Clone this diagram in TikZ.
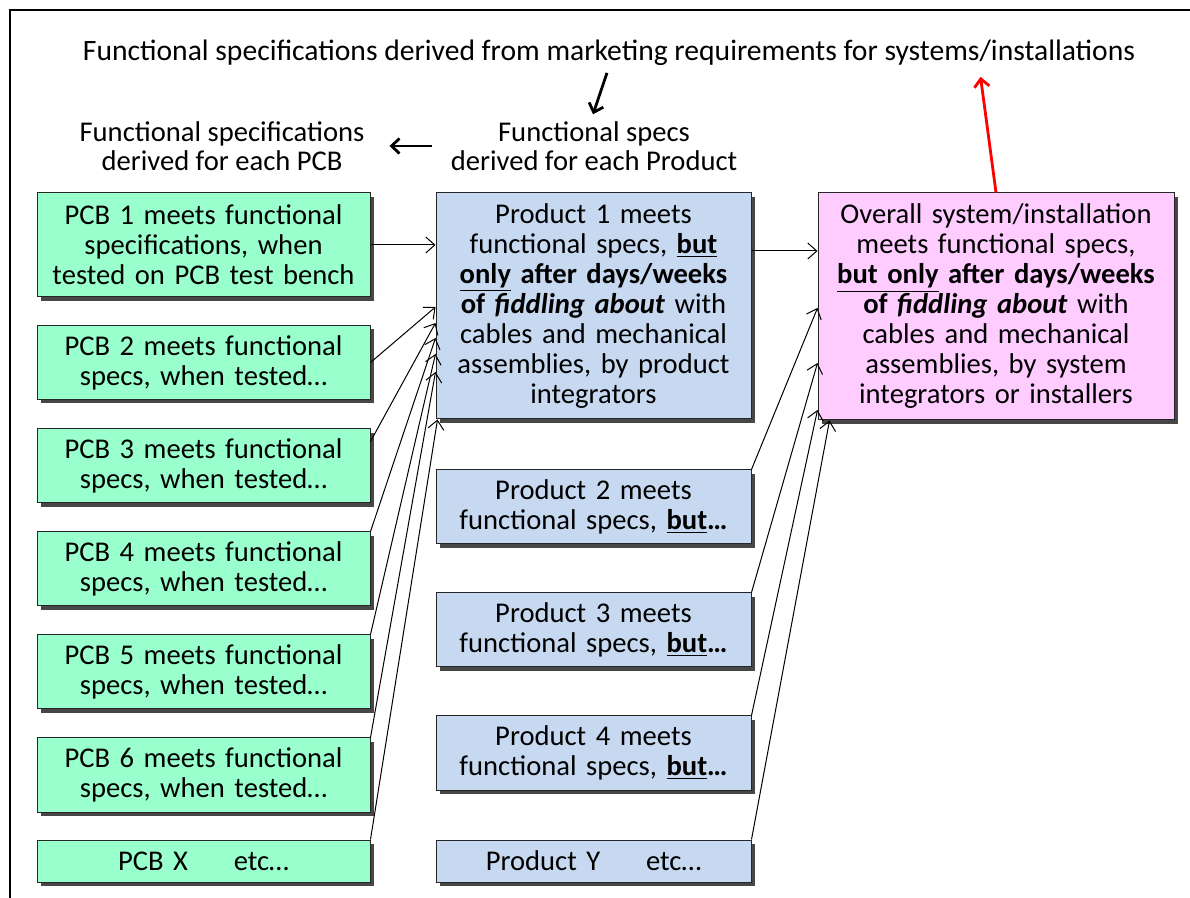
\documentclass[tikz,border=0pt]{standalone}
\usepackage{fontspec}
\setmainfont{Carlito}
\usetikzlibrary{shadows,calc,arrows.meta}
\definecolor{pcbgreen}{RGB}{153,255,204}
\definecolor{prodblue}{RGB}{198,217,240}
\definecolor{syspink}{RGB}{255,204,255}
\newcommand{\ubf}[1]{\underline{\textbf{#1}}}

\begin{document}
\begin{tikzpicture}[x=0.5pt,y=-0.5pt,
  box/.style={rectangle,draw=black!85,line width=0.5pt,align=center,inner sep=0pt,
              drop shadow={shadow xshift=1.8pt,shadow yshift=-1.8pt,fill=black!80,opacity=0.9},
              font=\fontsize{14.3}{15}\selectfont},
  pcb/.style={box,fill=pcbgreen,minimum width=166.5pt,text width=164pt},
  prod/.style={box,fill=prodblue,minimum width=157.5pt,text width=155pt},
  head/.style={align=center,font=\fontsize{14.3}{14.6}\selectfont},
  conn/.style={-{Straight Barb[length=4.5pt,width=8pt]},line width=0.5pt},
  bigarrow/.style={-{Straight Barb[length=4pt,width=7.5pt]},line width=1.4pt}
]
\useasboundingbox (0,0) rectangle (1190,898);
\draw[line width=0.8pt] (10,10) rectangle (1210,920);

\node[head,font=\fontsize{14.8}{15}\selectfont] (title) at (609,53) {Functional specifications derived from marketing requirements for systems/installations};
\node[head] (pcbhead)  at (222,146) {Functional specifications\\derived for each PCB};
\node[head] (prodhead) at (594,146) {Functional specs\\derived for each Product};

\node[pcb,minimum height=52pt] (pcb1) at (203.5,245) {PCB 1 meets functional\\specifications, when\\tested on PCB test bench};
\node[pcb,minimum height=37pt] (pcb2) at (203.5,362.5) {PCB 2 meets functional\\specs, when tested…};
\node[pcb,minimum height=37pt] (pcb3) at (203.5,466)   {PCB 3 meets functional\\specs, when tested…};
\node[pcb,minimum height=37pt] (pcb4) at (203.5,569)   {PCB 4 meets functional\\specs, when tested…};
\node[pcb,minimum height=37pt] (pcb5) at (203.5,672)   {PCB 5 meets functional\\specs, when tested…};
\node[pcb,minimum height=37pt] (pcb6) at (203.5,775)   {PCB 6 meets functional\\specs, when tested…};
\node[pcb,minimum height=21pt] (pcbx) at (203.5,861)   {PCB X\hspace{1.6em}etc…};

\node[prod,minimum height=113pt] (prod1) at (593.5,306) {Product 1 meets\\functional specs, \ubf{but}\\\ubf{only} \textbf{after days/weeks}\\\textbf{of \textit{fiddling about}} with\\cables and mechanical\\assemblies, by product\\integrators};
\node[prod,minimum height=37pt] (prod2) at (593.5,507) {Product 2 meets\\functional specs, \textbf{\underline{but}…}};
\node[prod,minimum height=37pt] (prod3) at (593.5,630) {Product 3 meets\\functional specs, \textbf{\underline{but}…}};
\node[prod,minimum height=37pt] (prod4) at (593.5,753) {Product 4 meets\\functional specs, \textbf{\underline{but}…}};
\node[prod,minimum height=21pt] (prody) at (593.5,861) {Product Y\hspace{1.6em}etc…};

\node[box,fill=syspink,minimum width=178pt,text width=176pt,minimum height=113.5pt] (sys) at (996,306.5)
  {Overall system/installation\\meets functional specs,\\\ubf{but only} \textbf{after days/weeks}\\\textbf{of \textit{fiddling about}} with\\cables and mechanical\\assemblies, by system\\integrators or installers};

\draw[bigarrow] (title.south -| 607,0) -- (prodhead.north -| 593,0);
\draw[bigarrow,shorten <=6pt,shorten >=9pt] (prodhead.west) -- (pcbhead.east);
\draw[bigarrow,red,shorten >=2pt] (sys.north) -- (title.south -| 980,0);

\draw[conn] (pcb1.east) -- (pcb1.east -| prod1.west);
\draw[conn] (pcb2.east) -- (prod1.west |- 0,307);
\draw[conn] ([yshift=-6.5pt]pcb3.north east) -- (prod1.west |- 0,323);
\draw[conn] (pcb4.north east) -- (prod1.west |- 0,338);
\draw[conn] (pcb5.north east) -- (prod1.west |- 0,354);
\draw[conn] (pcb6.north east) -- (prod1.west |- 0,372);
\draw[conn] (pcbx.north east) -- ([xshift=1pt]prod1.south west);

\draw[conn] (prod1.east |- 0,251) -- (sys.west |- 0,251);
\draw[conn] (prod2.north east) -- (sys.west |- 0,308);
\draw[conn] (prod3.north east) -- (sys.west |- 0,363);
\draw[conn] (prod4.north east) -- (sys.west |- 0,410);
\draw[conn] (prody.north east) -- ([xshift=6pt]sys.south west);
\end{tikzpicture}
\end{document}
